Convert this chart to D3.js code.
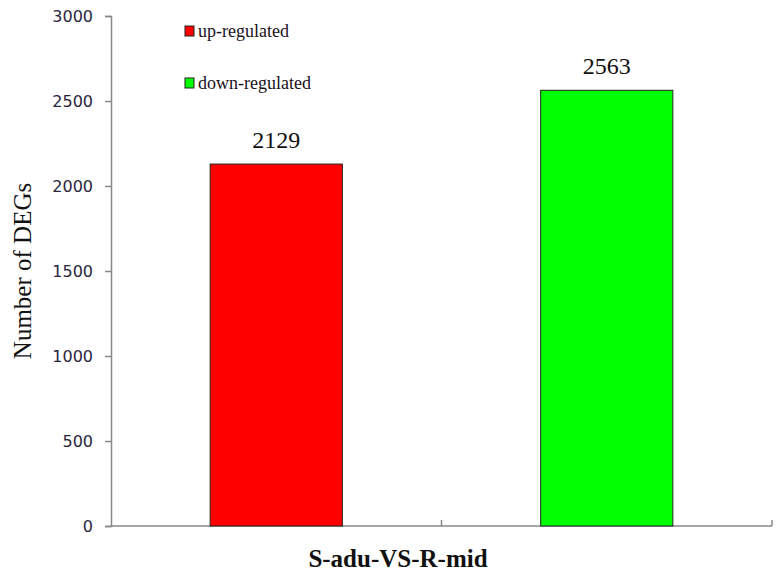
<!DOCTYPE html>
<html>
<head>
<meta charset="utf-8">
<script src="https://cdn.jsdelivr.net/npm/d3@7"></script>
<style>
  body { margin: 0; background: #fff; }
</style>
</head>
<body>
<div id="chart"></div>
<script>
// data
const categories = ["up-regulated", "down-regulated"];
const values = [2129, 2563];
const colors = ["#ff0000", "#00ff00"];
const yTicks = [0, 500, 1000, 1500, 2000, 2500, 3000];
const xTitle = "S-adu-VS-R-mid";
const yTitle = "Number of DEGs";

const width = 777, height = 575;
const margin = { left: 111, right: 5, top: 16, bottom: 49 };

const svg = d3.select("#chart")
  .append("svg")
  .attr("width", width)
  .attr("height", height);

const x = d3.scaleBand()
  .domain(categories)
  .range([margin.left, width - margin.right])
  .paddingInner(0)
  .paddingOuter(0);

const y = d3.scaleLinear()
  .domain([0, 3000])
  .range([height - margin.bottom, margin.top]);

const barWidth = x.bandwidth() * 0.4;

// y axis
const yAxis = svg.append("g")
  .attr("transform", `translate(${margin.left},0)`)
  .call(d3.axisLeft(y).tickValues(yTicks).tickFormat(d3.format("d")).tickSize(6).tickPadding(12));
yAxis.select(".domain").attr("stroke", "#888").attr("stroke-width", 1.5);
yAxis.selectAll(".tick line").attr("stroke", "#888").attr("stroke-width", 1.5);
yAxis.selectAll(".tick text")
  .attr("fill", "#2a2540")
  .style("font-family", "Tahoma, 'DejaVu Sans', sans-serif")
  .style("font-size", "16px");

// x axis with ticks at band boundaries
const y0 = y(0);
svg.append("line")
  .attr("x1", margin.left).attr("x2", width - margin.right)
  .attr("y1", y0).attr("y2", y0)
  .attr("stroke", "#888").attr("stroke-width", 1.5);
const bounds = categories.map(c => x(c)).concat([x(categories[categories.length - 1]) + x.bandwidth()]);
svg.selectAll(".xtick")
  .data(bounds.slice(1))
  .enter()
  .append("line")
  .attr("x1", d => d).attr("x2", d => d)
  .attr("y1", y0).attr("y2", y0 - 6)
  .attr("stroke", "#888").attr("stroke-width", 1.5);

// bars
svg.selectAll(".bar")
  .data(values)
  .enter()
  .append("rect")
  .attr("x", (d, i) => x(categories[i]) + (x.bandwidth() - barWidth) / 2)
  .attr("y", d => y(d))
  .attr("width", barWidth)
  .attr("height", d => y0 - y(d))
  .attr("fill", (d, i) => colors[i])
  .attr("stroke", "#222")
  .attr("stroke-width", 1);

// value labels
svg.selectAll(".val")
  .data(values)
  .enter()
  .append("text")
  .attr("x", (d, i) => x(categories[i]) + x.bandwidth() / 2)
  .attr("y", d => y(d) - 16)
  .attr("text-anchor", "middle")
  .style("font-family", "'Liberation Serif', 'Times New Roman', serif")
  .style("font-size", "24px")
  .attr("fill", "#111")
  .text(d => d);

// legend
const legend = svg.selectAll(".legend")
  .data(categories)
  .enter()
  .append("g")
  .attr("transform", (d, i) => `translate(185,${26 + i * 52})`);
legend.append("rect")
  .attr("width", 9).attr("height", 10)
  .attr("fill", (d, i) => colors[i])
  .attr("stroke", "#222").attr("stroke-width", 1);
legend.append("text")
  .attr("x", 13).attr("y", 11)
  .style("font-family", "'Liberation Serif', 'Times New Roman', serif")
  .style("font-size", "18px")
  .attr("fill", "#1a1020")
  .text(d => d);

// axis titles
svg.append("text")
  .attr("x", 398)
  .attr("y", 567)
  .attr("text-anchor", "middle")
  .style("font-family", "'Liberation Serif', 'Times New Roman', serif")
  .style("font-size", "25px")
  .style("font-weight", "bold")
  .attr("fill", "#111")
  .text(xTitle);

svg.append("text")
  .attr("transform", `translate(31,${(margin.top + y0) / 2}) rotate(-90)`)
  .attr("text-anchor", "middle")
  .style("font-family", "'Liberation Serif', 'Times New Roman', serif")
  .style("font-size", "25px")
  .attr("fill", "#111")
  .text(yTitle);
</script>
</body>
</html>
